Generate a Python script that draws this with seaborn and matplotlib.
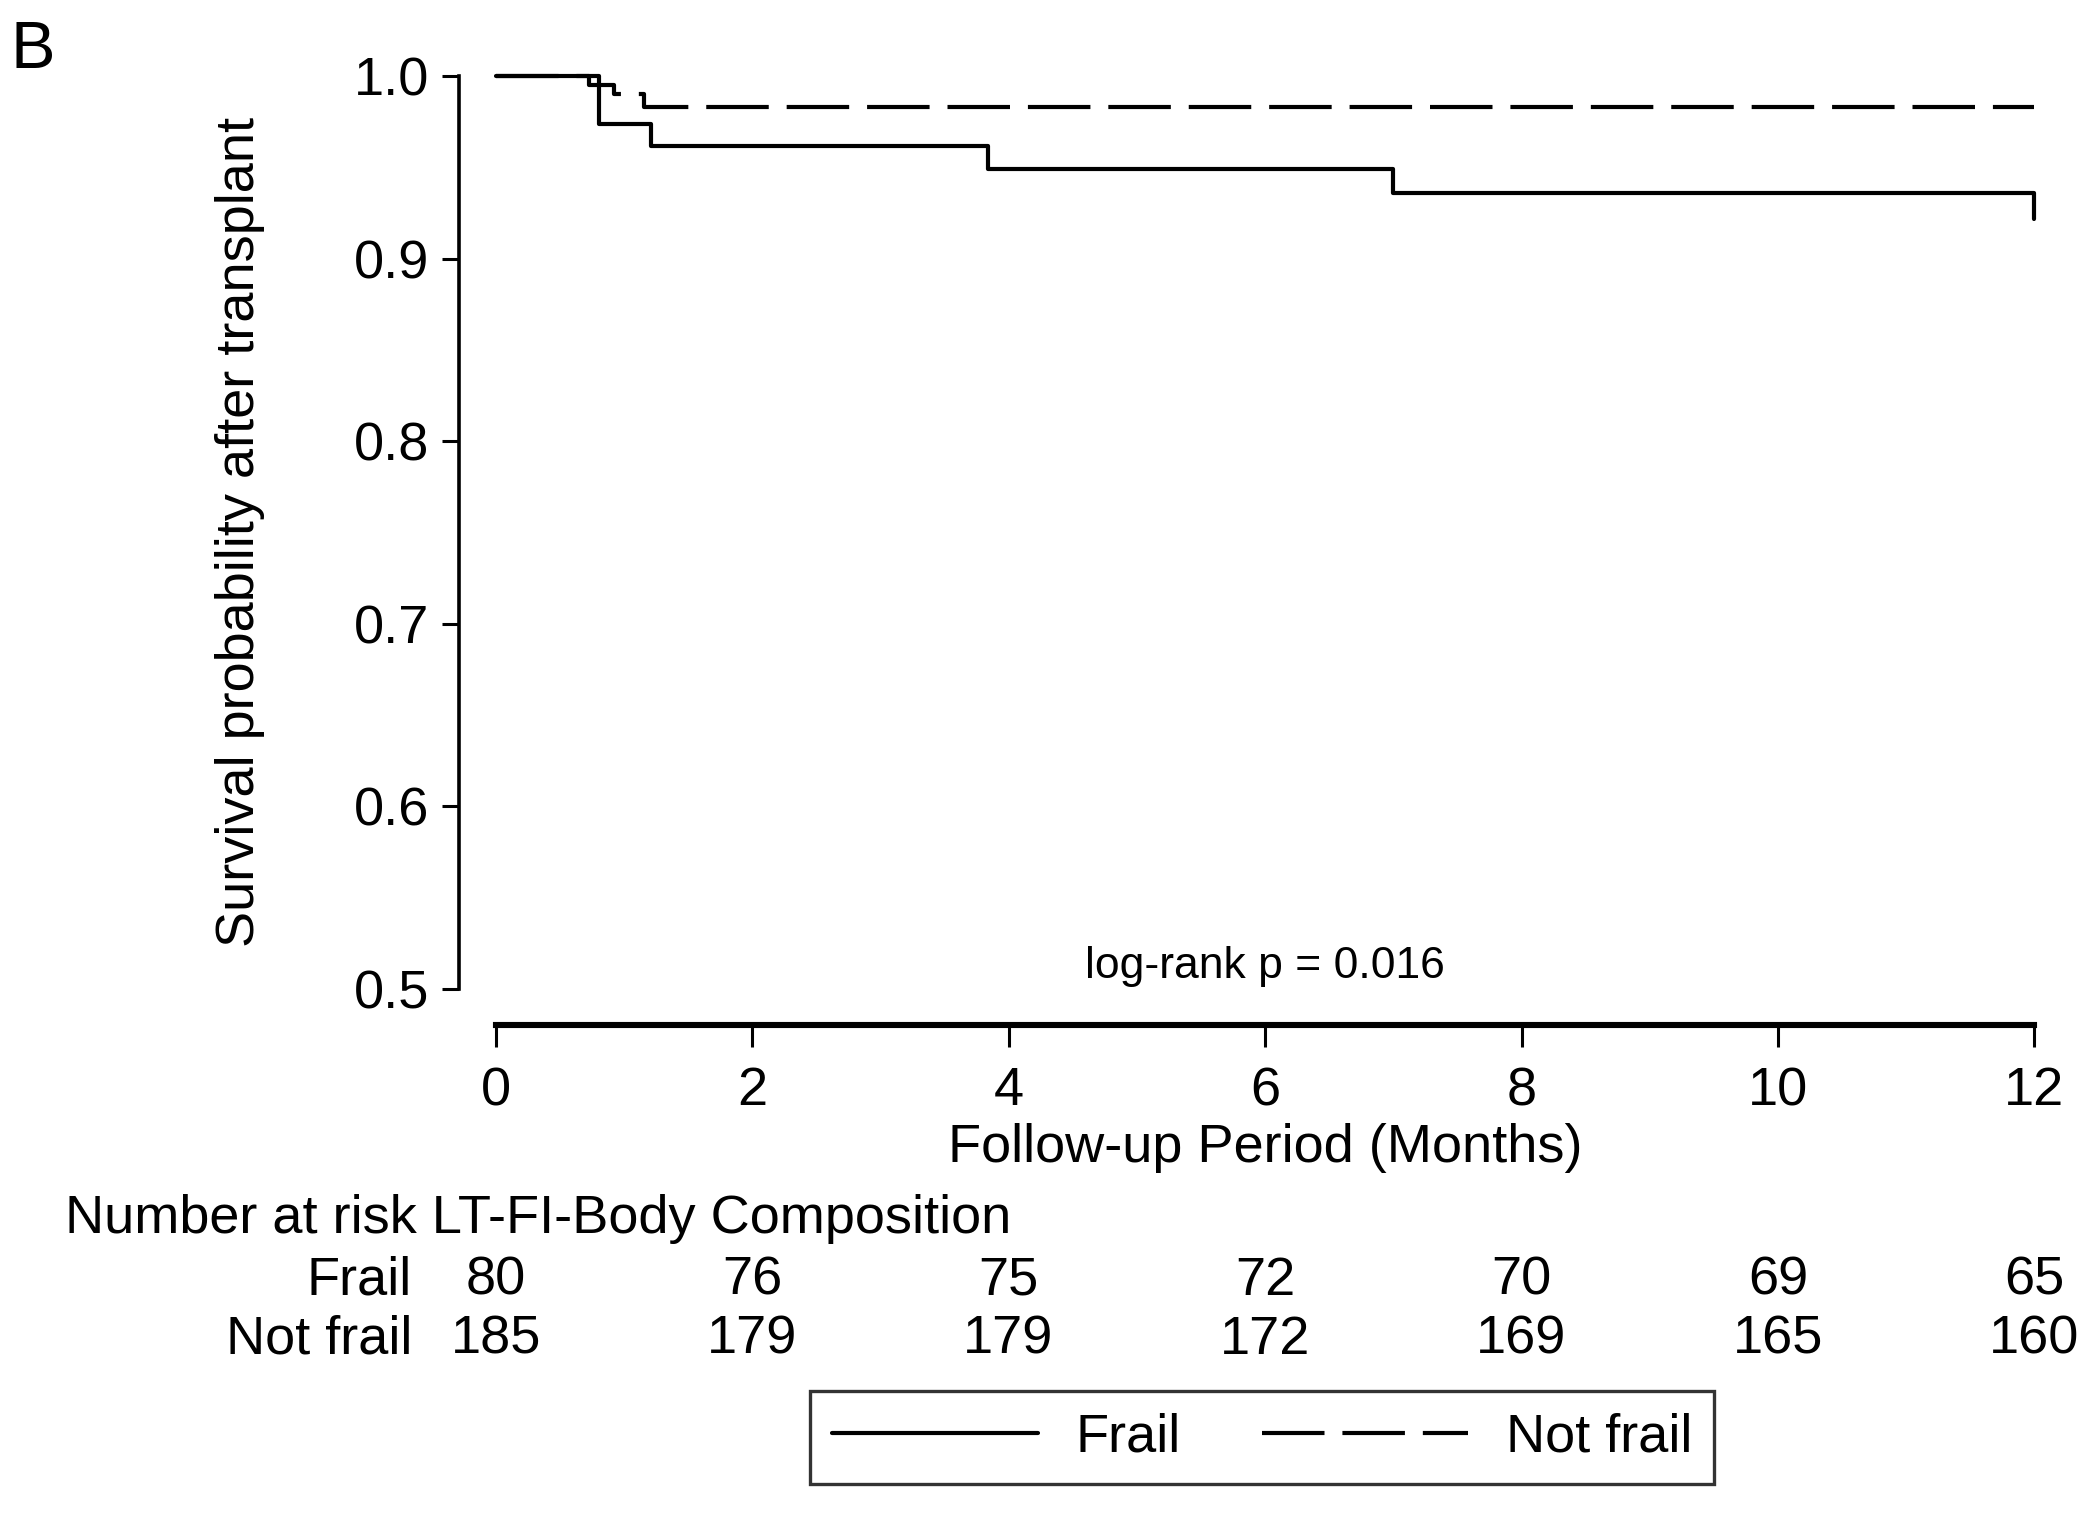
import matplotlib
matplotlib.use("Agg")
import matplotlib.pyplot as plt
import matplotlib.transforms as mtransforms
import pandas as pd
import seaborn as sns

# Kaplan-Meier steps
frail_months = [0, 0.81, 1.21, 3.84, 7.0, 12.0]
frail_surv = [1.0, 0.974, 0.962, 0.949, 0.936, 0.922]
notfrail_months = [0, 0.73, 0.92, 1.16, 12.0]
notfrail_surv = [1.0, 0.995, 0.990, 0.983, 0.983]

# number at risk table
risk_months = [0, 2, 4, 6, 8, 10, 12]
risk_frail = [80, 76, 75, 72, 70, 69, 65]
risk_notfrail = [185, 179, 179, 172, 169, 165, 160]

groups = ["Frail", "Not frail"]

df = pd.concat([
    pd.DataFrame({"month": frail_months, "surv": frail_surv, "group": "Frail"}),
    pd.DataFrame({"month": notfrail_months, "surv": notfrail_surv, "group": "Not frail"}),
], ignore_index=True)

sns.set_style("ticks")
plt.rcParams["font.family"] = ["Liberation Sans", "DejaVu Sans"]
plt.rcParams["text.color"] = "black"
plt.rcParams["axes.labelcolor"] = "black"
plt.rcParams["xtick.color"] = "black"
plt.rcParams["ytick.color"] = "black"
fs = 19.5

fig = plt.figure(figsize=(10.5, 7.57), dpi=200)
ax = fig.add_axes([0.236, 0.347, 0.7328, 0.6027])

sns.lineplot(data=df, x="month", y="surv", style="group", style_order=groups,
             dashes={"Frail": "", "Not frail": (15, 4.3)}, color="black",
             linewidth=1.5, drawstyle="steps-post", estimator=None, sort=False,
             legend=False, ax=ax)
for ln in ax.lines:
    ln.set_clip_on(False)

ax.set_xlim(0, 12)
ax.set_ylim(0.5, 1.0)
ax.set_xticks(risk_months)
ax.set_yticks([0.5, 0.6, 0.7, 0.8, 0.9, 1.0])
ax.set_yticklabels([f"{v:.1f}" for v in [0.5, 0.6, 0.7, 0.8, 0.9, 1.0]])
ax.tick_params(axis="x", direction="out", length=8, width=1.1, pad=7, labelsize=fs, colors="black")
ax.tick_params(axis="y", direction="out", length=6, width=1.1, pad=5, labelsize=fs, colors="black")

ax.set_xlabel("Follow-up Period (Months)", fontsize=fs, color="black")
ax.set_ylabel("Survival probability after transplant", fontsize=fs, color="black")
ax.xaxis.set_label_coords(0.5, -0.147)
ax.yaxis.set_label_coords(-0.150, 0.5)

sns.despine(ax=ax, offset=13, trim=True)
ax.spines["bottom"].set_linewidth(2.2)
ax.spines["left"].set_linewidth(1.3)
ax.spines["bottom"].set_color("black")
ax.spines["left"].set_color("black")

ax.text(6, 0.512, "log-rank p = 0.016", ha="center", va="center", fontsize=16, color="black")

# number at risk
trans = mtransforms.blended_transform_factory(ax.transData, fig.transFigure)
ax.text(-3.36, 0.195, "Number at risk LT-FI-Body Composition", transform=trans,
        ha="left", va="center", fontsize=fs, clip_on=False)
ax.text(-0.65, 0.154, "Frail", transform=trans, ha="right", va="center", fontsize=fs)
ax.text(-0.65, 0.115, "Not frail", transform=trans, ha="right", va="center", fontsize=fs)
for m, a, b in zip(risk_months, risk_frail, risk_notfrail):
    ax.text(m, 0.154, str(a), transform=trans, ha="center", va="center", fontsize=fs)
    ax.text(m, 0.115, str(b), transform=trans, ha="center", va="center", fontsize=fs)

fig.text(0.005, 0.987, "B", ha="left", va="top", fontsize=24)

handles = sorted(ax.lines, key=lambda l: l.get_linestyle() != "-")
leg = fig.legend(handles[:2], groups, loc="center", bbox_to_anchor=(0.601, 0.0504),
                 ncol=2, fontsize=fs, frameon=True, fancybox=False, edgecolor="black",
                 handlelength=3.8, handletextpad=0.7, columnspacing=1.5, borderpad=0.4)
leg.get_frame().set_linewidth(1.2)

fig.savefig("out.png", dpi=200, facecolor="white")
